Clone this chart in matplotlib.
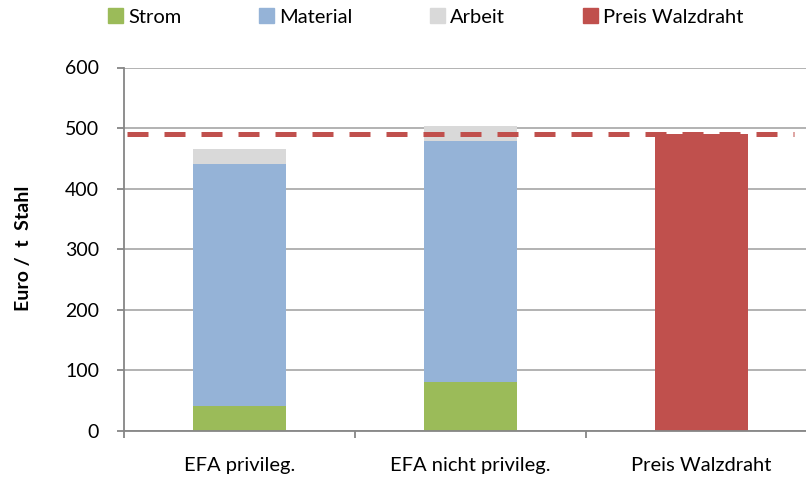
import numpy as np
import matplotlib.pyplot as plt
from matplotlib.patches import Patch

# Kosten je Tonne Stahl
categories = ['EFA privileg.', 'EFA nicht privileg.', 'Preis Walzdraht']
strom = [42, 81, 0]
material = [398, 398, 0]
arbeit = [25, 25, 0]
preis = [0, 0, 490]
preis_linie = 490

plt.rcParams['font.family'] = ['Lato', 'DejaVu Sans']

fig = plt.figure(figsize=(8.06, 4.79), dpi=100)
ax = fig.add_axes([124 / 806, 48 / 479, 682 / 806, 363.5 / 479])

x = np.arange(len(categories))
width = 0.403
strom_arr = np.array(strom)
material_arr = np.array(material)
arbeit_arr = np.array(arbeit)

ax.bar(x, strom_arr, width, color='#9BBB59', zorder=2)
ax.bar(x, material_arr, width, bottom=strom_arr, color='#95B3D7', zorder=2)
ax.bar(x, arbeit_arr, width, bottom=strom_arr + material_arr, color='#D9D9D9', zorder=2)
ax.bar(x, preis, width, color='#C0504D', zorder=2)

# gestrichelte Linie fuer den Walzdrahtpreis
ax.axhline(preis_linie, xmin=0.005, xmax=0.982, color='#C0504D', lw=3.6,
           dashes=(4.2, 3.2), zorder=3)

ax.set_xlim(-0.5, 2.452)
ax.set_ylim(0, 600)
ax.set_yticks(np.arange(0, 601, 100))
ax.yaxis.grid(True, color='#ADADAD', lw=1.3, zorder=0)
ax.set_axisbelow(True)

ax.set_xticks([-0.5, 0.5, 1.5], minor=False)
ax.set_xticklabels([])
ax.set_xticks(x, minor=True)
ax.set_xticklabels(categories, minor=True)
ax.tick_params(axis='x', which='minor', length=0, pad=19, labelsize=14.5)
ax.tick_params(axis='x', which='major', length=5, width=1.3, color='#868686')
ax.tick_params(axis='y', length=5, width=1.3, color='#868686', pad=13, labelsize=14)

for side in ['top', 'right']:
    ax.spines[side].set_visible(False)
for side in ['left', 'bottom']:
    ax.spines[side].set_color('#868686')
    ax.spines[side].set_linewidth(1.3)

fig.text(24 / 806, 1 - 248 / 479, 'Euro /  t  Stahl', rotation=90, fontsize=14,
         fontweight='bold', ha='center', va='center')

handles = [Patch(color='#9BBB59', label='Strom'),
           Patch(color='#95B3D7', label='Material'),
           Patch(color='#D9D9D9', label='Arbeit'),
           Patch(color='#C0504D', label='Preis Walzdraht')]
fig.legend(handles=handles, ncol=4, loc='center left', bbox_to_anchor=(90 / 806, 1 - 17 / 479),
           frameon=False, fontsize=14.5, handlelength=0.75, handleheight=0.75,
           handletextpad=0.25, columnspacing=3.85)

fig.savefig('out.png', dpi=100)
